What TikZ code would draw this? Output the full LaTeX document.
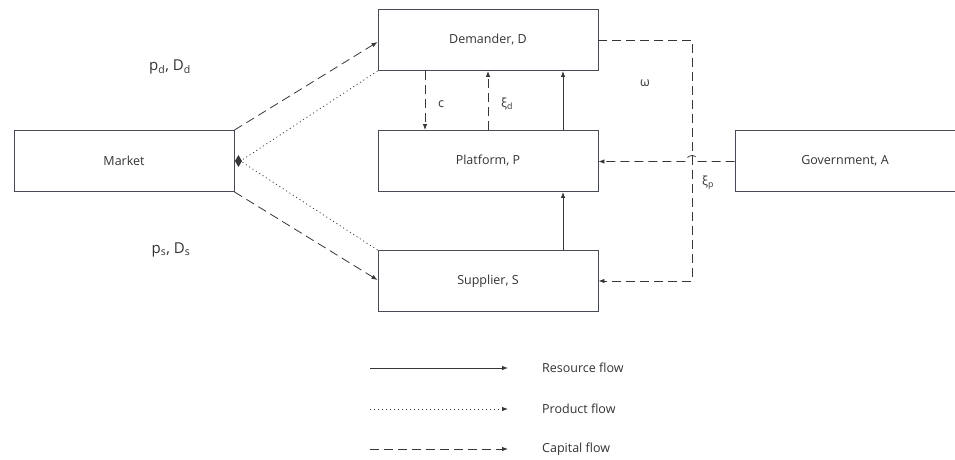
\documentclass[tikz,border=0pt]{standalone}
\usepackage{fontspec}
\setmainfont{Open Sans}
\usepackage{xcolor}
\definecolor{linegray}{RGB}{55,55,55}
\definecolor{boxgray}{RGB}{70,75,85}
\usetikzlibrary{arrows.meta,positioning,calc}

\begin{document}
\begin{tikzpicture}[
  x=1pt, y=-1pt,
  agent/.style={rectangle, draw=boxgray, line width=0.9pt, minimum width=220pt,
                minimum height=61pt, inner sep=0pt, font=\fontsize{12.5}{15}\selectfont,
                text=black!80},
  flowlabel/.style={font=\fontsize{12.5}{15}\selectfont, text=black!80, inner sep=1pt},
  pricelabel/.style={font=\fontsize{15}{18}\selectfont, text=black!80, inner sep=1pt},
  resource/.style={line width=0.8pt, color=linegray, -{Latex[length=6pt,width=4.5pt]}},
  product/.style={line width=0.8pt, color=linegray, dash pattern=on 1pt off 3pt,
                  -{Latex[length=6pt,width=4.5pt]}},
  capital/.style={line width=0.8pt, color=linegray, dash pattern=on 9pt off 5pt,
                  -{Latex[length=6pt,width=4.5pt]}}
]
  \useasboundingbox (0,0) rectangle (955,459);
  % Agents
  \node[agent] (mkt)  at (124,161) {Market};
  \node[agent] (dem)  at (488,40)  {Demander, D};
  \node[agent] (plat) at (488,161) {Platform, P};
  \node[agent] (sup)  at (488,281) {Supplier, S};
  \node[agent] (gov)  at (845,161) {Government, A};
  % Market <-> Demander / Supplier
  \draw[capital] (mkt.north east) -- ($(dem.west)+(0,2)$);
  \draw[capital] (mkt.south east) -- ($(sup.west)+(0,-1)$);
  \draw[product, -] (dem.south west) -- ($(mkt.east)+(6,0)$);
  \draw[product, -] (sup.north west) -- ($(mkt.east)+(6,0)$);
  \fill[linegray] ($(mkt.east)+(4,-6)$) -- ++(3.5,6) -- ++(-3.5,6) -- ++(-3.5,-6) -- cycle;
  \node[pricelabel] at (170,67)  {p\textsubscript{d}, D\textsubscript{d}};
  \node[pricelabel] at (171,250) {p\textsubscript{s}, D\textsubscript{s}};
  % Demander <-> Platform
  \draw[capital] ($(dem.south)+(-63,0)$) -- ($(plat.north)+(-63,0)$);
  \draw[capital] (plat.north) -- (dem.south);
  \draw[resource] ($(plat.north)+(75,0)$) -- ($(dem.south)+(75,0)$);
  \draw[resource] ($(sup.north)+(75,0)$) -- ($(plat.south)+(75,0)$);
  \node[flowlabel] at (441,104) {c};
  \node[flowlabel] at (507,104) {ξ\textsubscript{d}};
  % Government subsidies
  \coordinate (jump) at (692,161.5);
  \draw[capital] (dem.east) -| ($(sup.east)+(94,0)$) -- (sup.east);
  \draw[capital] ($(gov.west)+(0,0.5)$) -- ($(jump)+(6,0)$)
    arc[start angle=0, end angle=-180, radius=6] -- ($(plat.east)+(0,0.5)$);
  \node[flowlabel] at (645,83)  {ω};
  \node[flowlabel] at (708,183) {ξ\textsubscript{p}};
  % Legend
  \coordinate (res1) at (370,368); \coordinate (res2) at (508,368);
  \coordinate (pro1) at (370,409); \coordinate (pro2) at (508,409);
  \coordinate (cap1) at (370,449); \coordinate (cap2) at (508,449);
  \draw[resource] (res1) -- (res2);
  \draw[product]  (pro1) -- (pro2);
  \draw[capital]  (cap1) -- (cap2);
  \node[flowlabel, anchor=west] at (541,368) {Resource flow};
  \node[flowlabel, anchor=west] at (541,409) {Product flow};
  \node[flowlabel, anchor=west] at (541,449) {Capital flow};
\end{tikzpicture}
\end{document}
